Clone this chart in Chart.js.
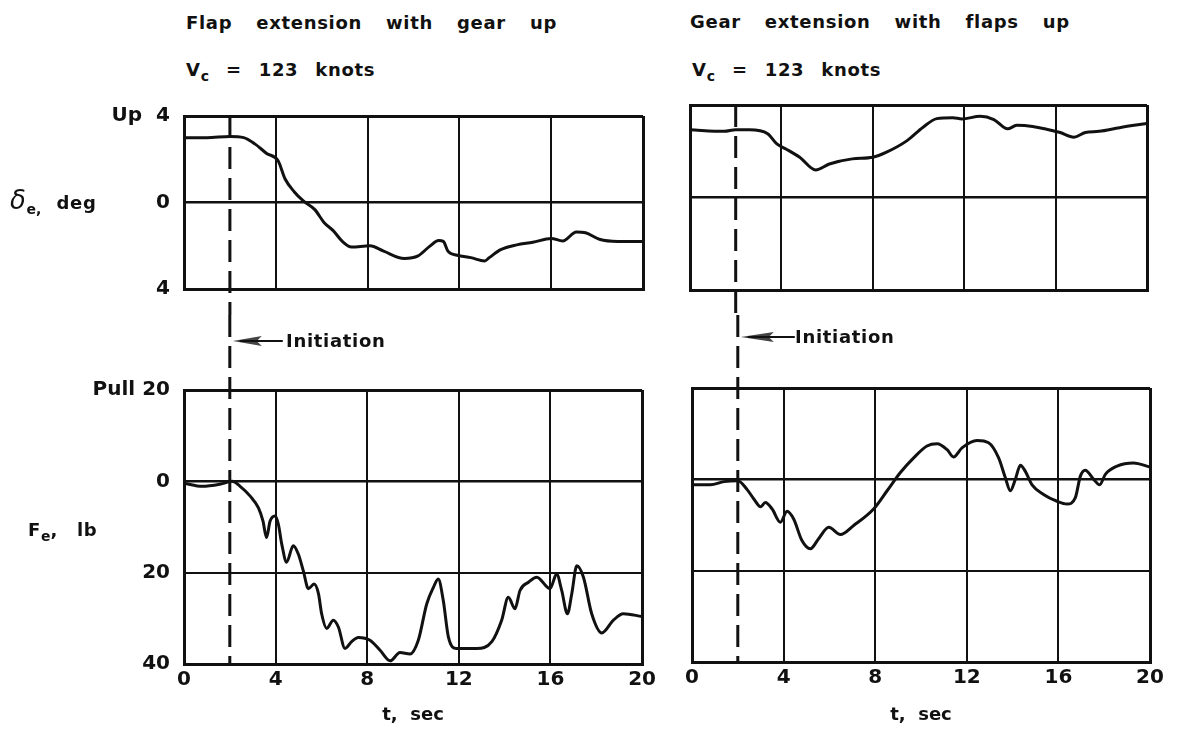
<!DOCTYPE html>
<html>
<head>
<meta charset="utf-8">
<script src="https://cdn.jsdelivr.net/npm/chart.js@4.4.1/dist/chart.umd.min.js"></script>
<style>
  html, body { margin: 0; padding: 0; background: #fff; }
  #page { position: relative; width: 1180px; height: 730px; overflow: hidden;
          font-family: 'DejaVu Sans', sans-serif; font-weight: bold; color: #111; }
  .box { position: absolute; }
  .lbl { position: absolute; white-space: nowrap; font-size: 18px; line-height: 20px;
         letter-spacing: 0.7px; word-spacing: 17px; }
  .lbl sub { font-size: 14px; vertical-align: -5px; letter-spacing: 0; }
  .speed { word-spacing: 10px; }
  .greek { font-weight: normal; font-size: 26px; font-style: italic; }
</style>
</head>
<body>
<div id="page">
  <div class="box" style="left:0;top:90px;width:660px;height:225px"><canvas id="deltaFlap"></canvas></div>
  <div class="box" style="left:0;top:315px;width:660px;height:415px"><canvas id="forceFlap"></canvas></div>
  <div class="box" style="left:660px;top:90px;width:520px;height:225px"><canvas id="deltaGear"></canvas></div>
  <div class="box" style="left:660px;top:315px;width:520px;height:415px"><canvas id="forceGear"></canvas></div>

  <div class="lbl" style="left:186px;top:13px">Flap extension with gear up</div>
  <div class="lbl speed" style="left:186px;top:60px">V<sub>c</sub> = 123 knots</div>
  <div class="lbl" style="left:690px;top:12px">Gear extension with flaps up</div>
  <div class="lbl speed" style="left:692px;top:60px">V<sub>c</sub> = 123 knots</div>

  <div class="lbl" style="left:10px;top:190px;word-spacing:8px"><span class="greek">δ</span><sub>e,</sub> deg</div>
  <div class="lbl" style="left:28px;top:520px;word-spacing:12px">F<sub>e</sub>, lb</div>

  <div class="lbl" style="left:286px;top:331px;word-spacing:0">Initiation</div>
  <div class="lbl" style="left:795px;top:327px;word-spacing:0">Initiation</div>
</div>

<script>
// time axis
const tMin = 0;
const tMax = 20;
const tStep = 4;
const tInit = 2;

// elevator deflection, flap extension with gear up (deg, up positive)
const deltaFlapT = [0, 1, 2, 2.6, 3.1, 3.6, 4.1, 4.4, 4.8, 5.2, 5.7, 6.1, 6.5, 6.9, 7.3, 8.1, 8.7, 9.6, 10.2, 10.7, 11.1, 11.3, 11.5, 11.9, 12.5, 13.1, 13.3, 13.8, 14.5, 15.2, 16.0, 16.5, 17.1, 17.5, 18.1, 18.9, 20];
const deltaFlapV = [3.0, 3.0, 3.05, 3.0, 2.7, 2.27, 1.93, 1.1, 0.5, 0.07, -0.33, -0.92, -1.3, -1.8, -2.06, -2.0, -2.25, -2.59, -2.47, -2.03, -1.76, -1.8, -2.25, -2.44, -2.55, -2.7, -2.55, -2.18, -1.96, -1.84, -1.66, -1.78, -1.36, -1.4, -1.7, -1.8, -1.8];

// elevator deflection, gear extension with flaps up
const deltaGearT = [0, 1.5, 2, 2.6, 3.4, 3.8, 4.2, 4.8, 5.5, 6.1, 7.1, 8.0, 8.6, 9.5, 10.2, 10.8, 11.5, 11.9, 12.7, 13.3, 13.9, 14.3, 15.0, 15.7, 16.2, 16.8, 17.3, 17.9, 18.8, 20];
const deltaGearV = [2.93, 2.86, 2.93, 2.93, 2.76, 2.32, 2.1, 1.74, 1.19, 1.45, 1.67, 1.74, 1.96, 2.46, 3.04, 3.41, 3.45, 3.4, 3.51, 3.37, 2.97, 3.12, 3.07, 2.93, 2.81, 2.61, 2.81, 2.86, 3.02, 3.2];

// stick force, flap extension (lb, pull positive)
const forceFlapT = [0, 0.8, 1.6, 2.1, 2.45, 2.9, 3.25, 3.45, 3.6, 3.76, 3.97, 4.12, 4.27, 4.48, 4.77, 4.99, 5.21, 5.43, 5.68, 5.87, 6.01, 6.23, 6.52, 6.74, 7.03, 7.32, 7.61, 8.12, 8.56, 9.0, 9.43, 9.87, 10.23, 10.6, 10.89, 11.1, 11.32, 11.54, 11.9, 12.78, 13.44, 13.87, 14.16, 14.45, 14.67, 15.04, 15.4, 15.98, 16.27, 16.49, 16.74, 16.93, 17.15, 17.44, 17.8, 18.24, 18.75, 19.18, 20];
const forceFlapV = [-0.4, -1.1, -0.6, 0, -1.1, -3.3, -5.8, -8.7, -12.3, -8.7, -7.6, -9.4, -13.8, -17.7, -14.1, -15.9, -19.6, -23.5, -22.5, -24.6, -29, -32.2, -30.4, -31.9, -36.6, -35.1, -34.2, -34.8, -37, -39.3, -37.5, -37.8, -34.8, -26.8, -23.2, -21.4, -26.1, -34, -36.6, -36.6, -35.1, -30.4, -25.4, -27.9, -23.9, -22.1, -21, -23.5, -20.3, -23.9, -29, -24.6, -18.5, -21, -29, -33.2, -30.4, -29, -29.6];

// stick force, gear extension
const forceGearT = [0, 0.8, 1.4, 2.0, 2.4, 2.7, 3.0, 3.2, 3.5, 3.86, 4.15, 4.44, 4.8, 5.17, 5.53, 5.97, 6.48, 7.06, 7.93, 8.52, 9.1, 9.68, 10.26, 10.7, 11.14, 11.42, 11.79, 12.45, 12.95, 13.39, 13.68, 13.9, 14.12, 14.34, 14.55, 14.85, 15.35, 15.94, 16.38, 16.74, 16.96, 17.17, 17.54, 17.8, 18.05, 18.56, 19.28, 20];
const forceGearV = [-1.2, -1.2, -0.5, -0.3, -2.2, -4.3, -6, -5.1, -6.5, -9.4, -7, -8.7, -13.4, -15.2, -13, -10.5, -12.1, -10.1, -6.5, -2.5, 1.5, 4.7, 7.3, 7.8, 6.5, 4.9, 6.9, 8.5, 8, 4.7, 0.4, -2.5, 0, 3.1, 1.8, -1.2, -3.3, -4.8, -5.4, -4, 0.7, 2, 0, -1.2, 1.1, 2.9, 3.6, 2.7];

// y axis ranges and tick wording
const deltaRange = [-4, 4, 4];
const forceRange = [-40, 20, 20];
const deltaTickLabel = v => v === 4 ? 'Up  4' : String(Math.abs(v));
const forceTickLabel = v => v === 20 ? 'Pull 20' : String(Math.abs(v));

const black = '#111';
const tickFont = { family: '"DejaVu Sans", sans-serif', weight: 'bold', size: 20 };
const titleFont = { family: '"DejaVu Sans", sans-serif', weight: 'bold', size: 18 };

// dashed "initiation" line, running across the gap between the two panels
const initiationPlugin = {
  id: 'initiation',
  afterDatasetsDraw(chart, args, o) {
    const { ctx, chartArea, scales } = chart;
    const x = scales.x.getPixelForValue(o.t);
    const y0 = o.toTop ? 0 : chartArea.top;
    const y1 = o.toBottom ? chart.height : chartArea.bottom;
    ctx.save();
    ctx.strokeStyle = black;
    ctx.lineWidth = 3;
    ctx.setLineDash([22, 9]);
    ctx.beginPath();
    ctx.moveTo(x, y0);
    ctx.lineTo(x, y1);
    ctx.stroke();
    if (o.arrowY != null) {
      const y = o.arrowY;
      ctx.setLineDash([]);
      ctx.fillStyle = '#444';
      ctx.beginPath();
      ctx.moveTo(x + 3, y);
      ctx.lineTo(x + o.head, y - 5);
      ctx.lineTo(x + o.head - 5, y);
      ctx.lineTo(x + o.head, y + 5);
      ctx.closePath();
      ctx.fill();
      ctx.lineWidth = 2;
      ctx.beginPath();
      ctx.moveTo(x + 10, y);
      ctx.lineTo(x + o.len, y);
      ctx.stroke();
    }
    ctx.restore();
  }
};

const lineWidthAt = (lo, hi) => ctx => {
  const v = ctx.tick ? ctx.tick.value : null;
  if (v === lo || v === hi) return 3;
  return v === 0 ? 2.5 : 2;
};

function makePanel(id, t, v, range, opts) {
  const [lo, hi, step] = range;
  return new Chart(document.getElementById(id), {
    type: 'line',
    data: {
      datasets: [{
        data: t.map((x, i) => ({ x, y: v[i] })),
        borderColor: black,
        borderWidth: 3,
        pointRadius: 0,
        cubicInterpolationMode: 'monotone',
        fill: false
      }]
    },
    options: {
      responsive: true,
      maintainAspectRatio: false,
      animation: false,
      layout: { padding: opts.padding },
      plugins: {
        legend: { display: false },
        tooltip: { enabled: false },
        initiation: opts.initiation
      },
      scales: {
        x: {
          type: 'linear',
          min: tMin,
          max: tMax,
          afterFit: s => { s.height = opts.xHeight; },
          ticks: { stepSize: tStep, display: opts.xLabels, padding: 4, color: black, font: tickFont, maxRotation: 0 },
          grid: { color: black, lineWidth: ctx => (ctx.tick && (ctx.tick.value === tMin || ctx.tick.value === tMax)) ? 3 : 2, drawTicks: false },
          border: { color: black, width: 3 },
          title: { display: opts.xLabels, text: 't,  sec', color: black, font: titleFont, padding: { top: 0, bottom: 4 } }
        },
        y: {
          type: 'linear',
          min: lo,
          max: hi,
          afterFit: s => { s.width = opts.yWidth; },
          ticks: { stepSize: step, display: opts.yLabels, padding: 14, color: black, font: tickFont, callback: opts.tickLabel },
          grid: { color: black, lineWidth: lineWidthAt(lo, hi), drawTicks: false },
          border: { color: black, width: 3 }
        }
      }
    },
    plugins: [initiationPlugin]
  });
}

makePanel('deltaFlap', deltaFlapT, deltaFlapV, deltaRange, {
  padding: { top: 21, right: 17, left: 0, bottom: 0 },
  xHeight: 24, yWidth: 184, xLabels: false, yLabels: true, tickLabel: deltaTickLabel,
  initiation: { t: tInit, toTop: false, toBottom: true }
});

makePanel('forceFlap', forceFlapT, forceFlapV, forceRange, {
  padding: { top: 75, right: 17, left: 0, bottom: 0 },
  xHeight: 66, yWidth: 184, xLabels: true, yLabels: true, tickLabel: forceTickLabel,
  initiation: { t: tInit, toTop: true, toBottom: false, arrowY: 26, head: 32, len: 53 }
});

makePanel('deltaGear', deltaGearT, deltaGearV, deltaRange, {
  padding: { top: 15, right: 33, left: 0, bottom: 0 },
  xHeight: 25, yWidth: 30, xLabels: false, yLabels: false, tickLabel: deltaTickLabel,
  initiation: { t: tInit, toTop: false, toBottom: true }
});

makePanel('forceGear', forceGearT, forceGearV, forceRange, {
  padding: { top: 73, right: 30, left: 0, bottom: 0 },
  xHeight: 68, yWidth: 32, xLabels: true, yLabels: false, tickLabel: forceTickLabel,
  initiation: { t: tInit, toTop: true, toBottom: false, arrowY: 22, head: 36, len: 57 }
});
</script>
</body>
</html>
